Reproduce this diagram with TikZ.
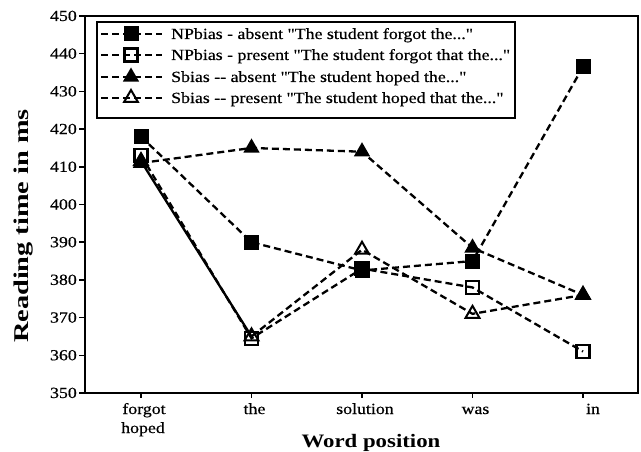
\documentclass[tikz,border=0pt]{standalone}
\usepackage{fontspec}
\setmainfont{Liberation Serif}
\newfontfamily\lf{Liberation Serif}[FakeStretch=1.15,FakeBold=0.5]
\newfontfamily\wf{Liberation Serif}[FakeStretch=1.2]
\newfontfamily\yf{Liberation Serif}[FakeStretch=1.35]
\usetikzlibrary{shapes.geometric}
\tikzset{
  series/.style={line width=2.3pt, dash pattern=on 7pt off 4pt},
  fsq/.style={rectangle, fill=black, minimum size=15pt, inner sep=0pt},
  osq/.style={rectangle, draw=black, line width=2.2pt, minimum size=13pt, inner sep=0pt},
  ftri/.style={regular polygon, regular polygon sides=3, fill=black, minimum size=19pt, inner sep=0pt},
  otri/.style={regular polygon, regular polygon sides=3, draw=black, line width=2pt, minimum size=16pt, inner sep=0pt},
  ticklab/.style={font=\lf\fontsize{15.5}{16}\selectfont, inner sep=0pt},
  leglab/.style={font=\lf\fontsize{15.5}{16}\selectfont, inner sep=0pt, anchor=base west},
}
\begin{document}
\begin{tikzpicture}[x=1pt,y=-1pt]
\useasboundingbox (0,0) rectangle (641,452);
% frame
\coordinate (fll) at (85,393);
\coordinate (fur) at (638,16);
\draw[line width=2.2pt] (fll) rectangle (fur);
% y ticks
\foreach \v in {350,360,...,450}{
  \coordinate (yt\v) at (85,{16+(450-\v)*3.77});
  \coordinate (ytl\v) at (79,{16+(450-\v)*3.77});
  \draw[line width=1.5pt] (yt\v) -- (ytl\v);
  \node[ticklab, anchor=base east] (yl\v) at (77,{21+(450-\v)*3.77}) {\v};
}
% x ticks and labels
\foreach \i/\w/\dx in {0/forgot/3,1/the/3,2/solution/3,3/was/3,4/in/10}{
  \coordinate (xt\i) at ({141+110.5*\i},393);
  \coordinate (xtb\i) at ({141+110.5*\i},398);
  \draw[line width=1.2pt] (xt\i) -- (xtb\i);
  \node[ticklab, anchor=base] (xl\i) at ({141+110.5*\i+\dx},414) {\w};
}
\node[ticklab, anchor=base] (xlh) at (143,433) {hoped};
\node[font=\wf\bfseries\fontsize{19}{20}\selectfont, inner sep=0pt, anchor=base] (xlab) at (371,447) {Word position};
\node[font=\yf\bfseries\fontsize{21}{22}\selectfont, inner sep=0pt, rotate=90] (ylab) at (24,226) {Reading time in ms};
% data coordinates
\foreach \i/\v in {0/418,1/390,2/382.5,3/385,4/436.5}
  \coordinate (A\i) at ({141+110.5*\i},{16+(450-\v)*3.77});
\foreach \i/\v in {0/413,1/364.5,2/383,3/378,4/361}
  \coordinate (B\i) at ({141+110.5*\i},{16+(450-\v)*3.77});
\foreach \i/\v in {0/411,1/415,2/414,3/388.5,4/376}
  \coordinate (C\i) at ({141+110.5*\i},{16+(450-\v)*3.77});
\foreach \i/\v in {0/411.5,1/365,2/388,3/371,4/376}
  \coordinate (D\i) at ({141+110.5*\i},{16+(450-\v)*3.77});
% lines
\draw[series] (A0) -- (A1) -- (A2) -- (A3) -- (A4);
\draw[line width=2.3pt] (D0) -- (D1);
\draw[series] (D1) -- (D2) -- (D3) -- (D4);
\draw[series] (B0) -- (B1) -- (B2) -- (B3) -- (B4);
\draw[series] (C0) -- (C1) -- (C2) -- (C3) -- (C4);
% markers
\foreach \i in {0,...,4} \node[otri] (mD\i) at (D\i) {};
\foreach \i in {0,...,4} \node[osq] (mB\i) at (B\i) {};
\foreach \i in {0,...,4} \node[ftri] (mC\i) at (C\i) {};
\foreach \i in {0,...,4} \node[fsq] (mA\i) at (A\i) {};
% legend
\coordinate (lgul) at (97,22);
\coordinate (lglr) at (515,118);
\draw[line width=2.2pt, fill=white] (lgul) rectangle (lglr);
\foreach \r/\y in {1/34,2/55,3/77,4/98}{
  \coordinate (ls\r) at (101,\y);
  \coordinate (le\r) at (162,\y);
  \draw[series] (ls\r) -- (le\r);
}
\node[fsq] (lm1) at (131,34) {};
\node[osq] (lm2) at (131,55) {};
\node[ftri] (lm3) at (131,77) {};
\node[otri] (lm4) at (131,98) {};
\node[leglab] (lt1) at (171,39) {NPbias - absent "The student forgot the..."};
\node[leglab] (lt2) at (171,60) {NPbias - present "The student forgot that the..."};
\node[leglab] (lt3) at (171,82) {Sbias -- absent "The student hoped the..."};
\node[leglab] (lt4) at (171,103) {Sbias -- present "The student hoped that the..."};
\end{tikzpicture}
\end{document}
